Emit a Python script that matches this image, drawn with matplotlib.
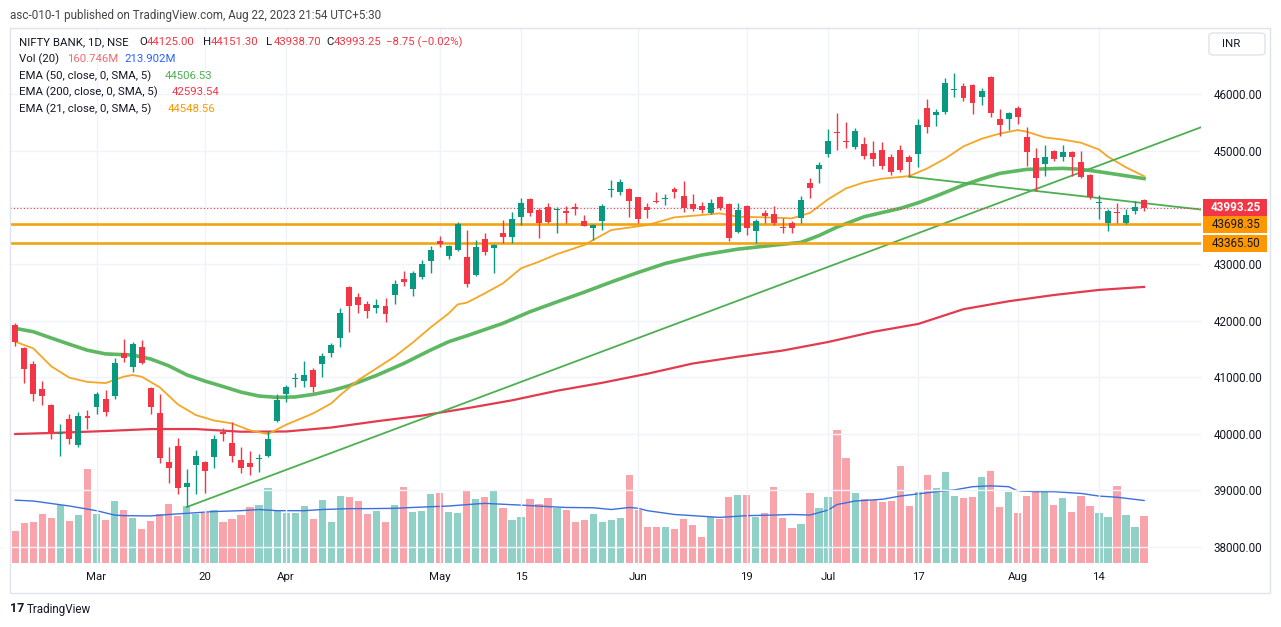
"""NIFTY BANK daily chart, TradingView style (Feb-Aug 2023)"""

import numpy as np
import pandas as pd
import matplotlib
matplotlib.use("Agg")
import matplotlib.pyplot as plt
from matplotlib.patches import Rectangle, FancyBboxPatch
from matplotlib.transforms import blended_transform_factory

plt.rcParams["font.family"] = ["Roboto", "DejaVu Sans"]

# ── Data ────────────────────────────────────────────────────────────────────

HOLIDAYS = ["2023-03-07", "2023-03-30", "2023-04-04", "2023-04-07",
            "2023-04-14", "2023-05-01", "2023-06-29", "2023-08-15"]
DATES = pd.bdate_range("2023-02-16", "2023-08-22", freq="C", holidays=HOLIDAYS)

OPEN = [41920, 41520, 41231, 40790, 40507, 40000, 40260, 39801, 40313, 40466,
        40607, 40666, 41420, 41172, 41526, 40802, 40360, 39506, 39783, 39053,
        39448, 39506, 39595, 40024, 39830, 39536, 39477, 39548, 39612, 40231,
        40702, 40975, 40931, 41125, 41226, 41420, 41685, 42597, 42409, 42285,
        42226, 42256, 42450, 42733, 42550, 42762, 43050, 43404, 43145, 43245,
        43115, 42803, 43433, 43274, 43551, 43468, 43822, 44140, 43951, 43998,
        43951, 43934, 43998, 43757, 43628, 43763, 44305, 44275, 44322, 44175,
        43998, 44116, 44140, 44322, 44204, 44057, 44028, 43893, 44175, 44057,
        43569, 44022, 43586, 43904, 43875, 43657, 43716, 43804, 44434, 44670,
        44940, 45334, 45175, 45058, 45117, 44952, 45011, 44893, 45011, 44881,
        44940, 45746, 45629, 45688, 46070, 46141, 46158, 45941, 46306, 45552,
        45552, 45746, 45234, 44863, 44763, 44999, 44881, 44975, 44793, 44569,
        44069, 43727, 43921, 43716, 43939, 44125.00]
HIGH = [41961, 41540, 41290, 40937, 40520, 40166, 40342, 40389, 40419, 40743,
        40772, 41343, 41667, 41626, 41655, 40831, 40701, 39760, 39930, 39371,
        39713, 39524, 39977, 40095, 40213, 39760, 39695, 39642, 40054, 40702,
        40860, 41078, 41285, 41155, 41420, 41608, 42215, 42609, 42491, 42350,
        42373, 42391, 42715, 42880, 42874, 43068, 43315, 43492, 43333, 43745,
        43598, 43421, 43551, 43351, 43775, 43922, 44157, 44157, 43981, 44081,
        43998, 44022, 44081, 43863, 43704, 44057, 44481, 44493, 44334, 44187,
        44069, 44275, 44234, 44363, 44469, 44234, 44098, 44140, 44204, 44069,
        44069, 44040, 43787, 43951, 44022, 43804, 43763, 44198, 44510, 44805,
        45376, 45670, 45511, 45405, 45246, 45169, 45158, 44934, 45099, 44922,
        45552, 45905, 45729, 46276, 46376, 46188, 46170, 46100, 46317, 45729,
        45688, 45788, 45423, 45040, 45099, 45010, 45099, 44990, 44999, 44580,
        44216, 43963, 44069, 43963, 44116, 44151.30]
LOW = [41549, 40902, 40584, 40507, 39901, 39612, 39813, 39760, 40077, 40348,
       40313, 40607, 41273, 41096, 41231, 40348, 39477, 39135, 38935, 38706,
       38935, 38947, 39389, 39871, 39506, 39300, 39271, 39330, 39595, 40213,
       40566, 40819, 40831, 40743, 41008, 41349, 41538, 41803, 42126, 42038,
       42126, 41979, 42291, 42615, 42438, 42740, 42833, 43292, 43086, 43227,
       42585, 42786, 43156, 42833, 43374, 43374, 43686, 43845, 43451, 43716,
       43551, 43716, 43863, 43669, 43421, 43598, 44187, 44216, 43834, 43716,
       43804, 44081, 44040, 44157, 43922, 43940, 43893, 43881, 43951, 43410,
       43539, 43510, 43363, 43716, 43686, 43539, 43551, 43716, 44157, 44434,
       44893, 45011, 45040, 45022, 44852, 44728, 44669, 44569, 44628, 44540,
       44704, 45305, 45440, 45646, 45941, 45882, 45646, 45805, 45587, 45258,
       45364, 45470, 44728, 44292, 44551, 44822, 44822, 44551, 44510, 44139,
       43786, 43586, 43716, 43700, 43880, 43938.70]
CLOSE = [41626, 41137, 40701, 40672, 39995, 40010, 39901, 40313, 40272, 40701,
         40389, 41243, 41343, 41585, 41255, 40478, 39565, 39400, 39047, 39124,
         39612, 39347, 39901, 39995, 39612, 39389, 39418, 39577, 39901, 40596,
         40819, 40990, 41037, 40831, 41379, 41567, 42138, 42262, 42273, 42167,
         42268, 42109, 42638, 42674, 42833, 42992, 43245, 43345, 43315, 43698,
         42638, 43292, 43215, 43327, 43468, 43786, 44069, 43904, 43716, 43739,
         43975, 43893, 43963, 43675, 43686, 44022, 44316, 44452, 44116, 43787,
         43951, 44098, 44157, 44275, 43981, 43969, 43951, 44081, 43981, 43451,
         43951, 43628, 43763, 43846, 43716, 43639, 43639, 44128, 44334, 44746,
         45170, 45317, 45146, 45346, 44910, 44852, 44728, 44628, 44657, 44804,
         45452, 45411, 45688, 46188, 46082, 45923, 45847, 46058, 45670, 45452,
         45658, 45587, 44981, 44510, 44881, 44846, 44975, 44881, 44540, 44186,
         44086, 43939, 43904, 43863, 43998, 43993.25]
VOLUME = [109, 138, 140, 167, 154, 198, 145, 164, 320, 167,
          147, 212, 180, 154, 117, 144, 168, 202, 161, 194,
          168, 171, 183, 140, 151, 163, 191, 198, 255, 183,
          170, 171, 195, 149, 216, 139, 229, 226, 212, 167,
          178, 140, 198, 259, 175, 178, 236, 239, 174, 171,
          247, 220, 226, 247, 189, 146, 158, 219, 202, 221,
          188, 181, 141, 148, 168, 141, 148, 154, 301, 181,
          122, 122, 122, 116, 152, 130, 90, 158, 150, 225,
          232, 232, 159, 172, 259, 153, 120, 135, 240, 187,
          226, 455, 358, 239, 219, 217, 210, 212, 331, 195,
          242, 301, 256, 310, 230, 224, 226, 294, 314, 191,
          242, 171, 229, 242, 245, 198, 224, 175, 229, 195,
          171, 156, 263, 164, 122, 160.746]

# indicator lines at these bar indices
EMA21_IDX = [0, 2, 4, 6, 8, 10, 12, 13, 14, 16, 18, 20, 22, 24, 26, 28, 30,
             33, 35, 36, 38, 40, 42, 44, 46, 48, 49, 50, 52, 54, 56, 58, 60,
             63, 66, 70, 73, 76, 78, 80, 83, 86, 88, 90, 92, 94, 96, 98, 99,
             101, 103, 105, 107, 109, 111, 112, 114, 116, 118, 120, 121, 123,
             125]
EMA21 = [41626, 41508, 41190, 40990, 40915, 40895, 41008, 41037, 41008, 40820,
         40520, 40330, 40235, 40183, 40060, 39995, 40160, 40360, 40537, 40684,
         40949, 41155, 41361, 41608, 41879, 42126, 42285, 42315, 42480, 42656,
         42921, 43039, 43174, 43333, 43598, 43686, 43822, 43863, 43892, 43833,
         43822, 43804, 43900, 44140, 44334, 44440, 44505, 44535, 44551, 44687,
         44863, 45075, 45210, 45300, 45364, 45334, 45234, 45195, 45140, 45020,
         44893, 44704, 44548.56]
EMA50_IDX = [0, 2, 4, 6, 8, 10, 13, 15, 17, 19, 21, 23, 25, 27, 29, 31, 33,
             35, 37, 40, 43, 46, 48, 50, 52, 54, 57, 60, 63, 66, 69, 72, 76,
             80, 84, 87, 89, 91, 94, 98, 100, 102, 105, 107, 109, 112, 116,
             118, 120, 122, 125]
EMA50 = [41861, 41802, 41690, 41580, 41475, 41410, 41390, 41320, 41200, 41040,
         40930, 40835, 40735, 40666, 40643, 40650, 40695, 40760, 40850, 41030,
         41240, 41479, 41626, 41730, 41840, 41950, 42155, 42330, 42500, 42680,
         42850, 43009, 43156, 43260, 43330, 43380, 43500, 43650, 43833, 43980,
         44080, 44200, 44393, 44500, 44598, 44669, 44687, 44670, 44628, 44580,
         44506.53]
EMA200_IDX = list(range(0, 126, 5))
EMA200 = [39995, 40019, 40048, 40083, 40083, 40036, 40040, 40110, 40220, 40320,
          40450, 40590, 40760, 40900, 41060, 41240, 41360, 41470, 41620, 41800,
          41940, 42200, 42340, 42450, 42540, 42593.54]
VOL_MA_IDX = [0, 2, 6, 9, 11, 12, 15, 17, 20, 22, 25, 27, 29, 32, 34, 37, 39,
              42, 44, 48, 51, 52, 56, 59, 61, 64, 66, 68, 69, 70, 73, 75, 78,
              79, 81, 84, 86, 88, 90, 91, 93, 96, 98, 102, 104, 106, 108, 110,
              111, 113, 115, 118, 120, 122, 125]
VOL_MA = [215, 212, 195, 179, 164, 162, 161, 166, 172, 176, 179, 183, 179, 179,
          183, 186, 186, 187, 190, 195, 202, 204, 198, 193, 190, 189, 183, 190,
          187, 179, 166, 162, 156, 158, 162, 164, 166, 164, 181, 200, 212, 218,
          229, 244, 250, 261, 264, 261, 247, 244, 244, 238, 229, 225, 213.902]

TICK_DATES = ["2023-03-01", "2023-03-20", "2023-04-03", "2023-05-02",
              "2023-05-15", "2023-06-01", "2023-06-19", "2023-07-03",
              "2023-07-17", "2023-08-01", "2023-08-14"]
TICK_LABELS = ["Mar", "20", "Apr", "May", "15", "Jun", "19", "Jul",
               "17", "Aug", "14"]
PRICE_TICKS = [38000, 39000, 40000, 41000, 42000, 43000, 44000, 45000, 46000]

LEVELS = [43698.35, 43365.50]
LAST_PRICE = 43993.25
# drawn trend lines: (bar index, price) end points
TREND_UP_X = [19, 131.5]
TREND_UP_Y = [38706, 45425]
TREND_DN_X = [99, 131.5]
TREND_DN_Y = [44540, 43956]

# ── Style ───────────────────────────────────────────────────────────────────

W, H = 1281, 627
_TXT = "#131722"
_GREEN = "#089981"
_RED = "#f23645"
_ORANGE = "#ff9800"
_LVL = "#f2a30f"
_E21 = "#f5a623"
_E50 = "#4caf50"
_E200 = "#e23b4e"
_BLUE = "#2962ff"
_GRID = "#f0f3fa"


def fx(px):
    return px / W


def fy(py):
    return 1 - py / H


fig = plt.figure(figsize=(W / 100, H / 100), dpi=100)
fig.patch.set_facecolor("white")

# plot area in pixels: x 10..1201, y 28..565
ax_rect = [fx(10), fy(565), fx(1201) - fx(10), fy(28) - fy(565)]
vax = fig.add_axes(ax_rect)
ax = fig.add_axes(ax_rect, sharex=vax)
ax.patch.set_visible(False)

x = np.arange(len(DATES))
o = np.array(OPEN)
c = np.array(CLOSE)
up = c >= o

# volume pane (overlay)
vol_colors = np.where(up, _GREEN, _RED)
vax.bar(x, VOLUME, width=0.8, color=vol_colors, alpha=0.45, linewidth=0)
vax.plot(VOL_MA_IDX, VOL_MA, color="#3b6fdc", lw=1.0)
vax.set_ylim(-6.8, 1830)
vax.set_yticks([])
for sp in vax.spines.values():
    sp.set_visible(False)

# price pane
ax.set_xlim(-0.58, 131.3)
ax.set_ylim(37682, 47166)

for p in PRICE_TICKS:
    ax.axhline(p, color=_GRID, lw=1, zorder=0)
for d in TICK_DATES:
    ax.axvline(DATES.get_loc(pd.Timestamp(d)), color=_GRID, lw=1, zorder=0)

ax.plot(EMA200_IDX, EMA200, color=_E200, lw=1.6, zorder=2)
ax.plot(EMA50_IDX, EMA50, color=_E50, lw=2.6, zorder=2, alpha=0.9,
        solid_joinstyle="round")
ax.plot(EMA21_IDX, EMA21, color=_E21, lw=1.3, zorder=2, solid_joinstyle="round")
ax.plot(TREND_UP_X, TREND_UP_Y, color=_E50, lw=1.3, zorder=2)
ax.plot(TREND_DN_X, TREND_DN_Y, color=_E50, lw=1.3, zorder=2)

for lv in LEVELS:
    ax.axhline(lv, color=_LVL, lw=1.9, zorder=2)
ax.axhline(LAST_PRICE, color=_RED, lw=0.8, ls=(0, (1, 2)), zorder=2)

# candles
cols = np.where(up, _GREEN, _RED)
ax.vlines(x, LOW, HIGH, colors=cols, lw=1.0, zorder=3)
body_lo = np.minimum(o, c)
body_h = np.maximum(np.abs(c - o), 18)
ax.bar(x, body_h, bottom=body_lo, width=0.66, color=cols, linewidth=0, zorder=4)

# axes
ax.set_xticks([DATES.get_loc(pd.Timestamp(d)) for d in TICK_DATES])
ax.set_xticklabels(TICK_LABELS, fontsize=8.2, color=_TXT)
ax.tick_params(axis="x", length=0, pad=5)
ax.yaxis.tick_right()
ax.set_yticks(PRICE_TICKS)
ax.set_yticklabels([f"{p:.2f}" if p != 44000 else "" for p in PRICE_TICKS],
                   fontsize=8.4, color=_TXT)
ax.tick_params(axis="y", length=0, pad=9)
for sp in ax.spines.values():
    sp.set_visible(False)
vax.tick_params(axis="x", length=0, labelbottom=False)

# price labels on the axis (boxes 64 px wide, 17 px tall)
tr = blended_transform_factory(ax.transAxes, ax.transData)
box_x0 = (1203 - 10) / 1191
box_w = 64 / 1191
box_h = 17 * 17.66
tag_x = (1236 - 10) / 1191
for val, fc, tc in [(LAST_PRICE, _RED, "white"), (LEVELS[0], _ORANGE, _TXT),
                    (LEVELS[1], _ORANGE, _TXT)]:
    ax.add_patch(Rectangle((box_x0, val - box_h / 2), box_w, box_h,
                           transform=tr, fc=fc, ec="none", clip_on=False,
                           zorder=6))
    ax.text(tag_x, val, f"{val:.2f}", transform=tr, ha="center", va="center",
            fontsize=8.4, color=tc, clip_on=False, zorder=7,
            fontweight="bold" if tc == "white" else "normal")

# outer frame
fig.patches.append(Rectangle((fx(10), fy(593)), fx(1270) - fx(10),
                             fy(28) - fy(593), transform=fig.transFigure,
                             fill=False, ec="#e0e3eb", lw=1))
fig.patches.append(FancyBboxPatch((fx(1209), fy(55)), fx(56), fy(33) - fy(55),
                                  boxstyle="round,pad=0,rounding_size=0.004",
                                  transform=fig.transFigure, fc="white",
                                  ec="#e0e3eb", lw=1))
fig.text(fx(1222), fy(44), "INR", fontsize=8.2, color=_TXT, va="center")

# header / legend
fig.text(fx(10), fy(15), "asc-010-1 published on TradingView.com, Aug 22, 2023 21:54 UTC+5:30",
         fontsize=8.4, color="#444", va="center")

LEG = dict(fontsize=8.2, va="center")
fig.text(fx(19), fy(42), "NIFTY BANK, 1D, NSE", color=_TXT, **LEG)
for lx, key, val in [(139, "O", "44125.00"), (203, "H", "44151.30"),
                     (266, "L", "43938.70"), (326, "C", "43993.25")]:
    fig.text(fx(lx), fy(42), key, color=_TXT, **LEG)
    fig.text(fx(lx + 7.5), fy(42), val, color=_RED, **LEG)
fig.text(fx(386), fy(42), "\u22128.75 (\u22120.02%)", color=_RED, **LEG)

fig.text(fx(19), fy(59), "Vol (20)", color=_TXT, **LEG)
fig.text(fx(67), fy(59), "160.746M", color="#ef6a73", **LEG)
fig.text(fx(124), fy(59), "213.902M", color=_BLUE, **LEG)
fig.text(fx(19), fy(76), "EMA (50, close, 0, SMA, 5)", color=_TXT, **LEG)
fig.text(fx(165), fy(76), "44506.53", color=_E50, **LEG)
fig.text(fx(19), fy(92), "EMA (200, close, 0, SMA, 5)", color=_TXT, **LEG)
fig.text(fx(172), fy(92), "42593.54", color=_RED, **LEG)
fig.text(fx(19), fy(109), "EMA (21, close, 0, SMA, 5)", color=_TXT, **LEG)
fig.text(fx(168), fy(109), "44548.56", color=_ORANGE, **LEG)

# footer logo
fig.text(fx(10), fy(609), "17", fontsize=9, fontweight="bold", color=_TXT, va="center")
fig.text(fx(27), fy(609), "TradingView", fontsize=8.4, color=_TXT, va="center")

fig.savefig("out.png", dpi=100, facecolor="white")
